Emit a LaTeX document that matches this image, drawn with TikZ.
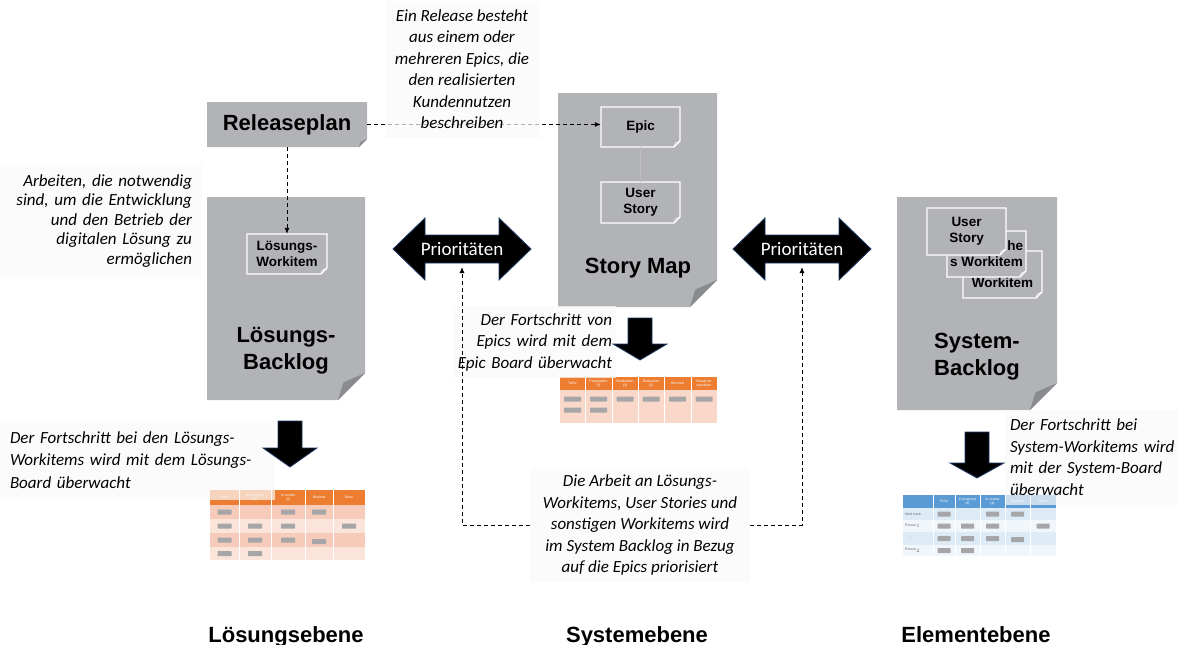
\documentclass[tikz,border=0pt]{standalone}
\usepackage{fontspec}
\setmainfont{Carlito}
\setsansfont{Liberation Sans}
\usetikzlibrary{fit,arrows.meta}

\definecolor{docgray}{RGB}{178,179,183}
\definecolor{folddark}{RGB}{138,139,143}
\definecolor{navy}{RGB}{31,56,100}
\definecolor{orhead}{RGB}{237,125,49}
\definecolor{orrow}{RGB}{247,203,185}
\definecolor{orrowlt}{RGB}{251,228,218}
\definecolor{bluehead}{RGB}{91,155,213}
\definecolor{bluerow}{RGB}{221,235,247}
\definecolor{bluerowlt}{RGB}{241,246,251}
\definecolor{badgegray}{RGB}{166,166,168}

% #1 name, #2-#5 corners, #6 fold
\newcommand{\Doc}[6]{%
  \fill[docgray] (#2,#3) -- (#4,#3) -- (#4,#5-#6) -- (#4-#6,#5) -- (#2,#5) -- cycle;
  \fill[folddark] (#4,#5-#6) -- (#4-#6,#5) -- (#4-0.8*#6,#5-0.65*#6) -- cycle;
  \node[fit={(#2,#3) (#4,#5)}, inner sep=0pt] (#1) {};}
\newcommand{\Card}[7]{%
  \draw[white, line width=1.1pt, fill=docgray] (#2,#3) -- (#4,#3) -- (#4,#5-#6) -- (#4-#6,#5) -- (#2,#5) -- cycle;
  \draw[white, line width=0.6pt] (#4,#5-#6) -- (#4-0.8*#6,#5-0.65*#6) -- (#4-#6,#5);
  \node[fit={(#2,#3) (#4,#5)}, inner sep=0pt] (#1) {};
  \node[cardtext] at (#1.center) {#7};}

\begin{document}
\begin{tikzpicture}[x=1pt, y=-1pt,
  title/.style={font=\sffamily\bfseries\fontsize{22}{27}\selectfont, align=center},
  cardtext/.style={font=\sffamily\bfseries\fontsize{13.5}{16}\selectfont, align=center, inner sep=0pt},
  note/.style={fill=black!2, fill opacity=0.7, text opacity=1, inner ysep=4pt, font=\itshape\fontsize{17}{21.5}\selectfont},
  link/.style={dash pattern=on 4pt off 3pt, line width=0.9pt, -{Latex[length=6pt,width=5pt]}},
  bigarrow/.style={fill=black, draw=navy, line width=0.8pt},
  priotext/.style={text=white, font=\fontsize{19}{22}\selectfont},
  badge/.style={fill=badgegray, minimum width=14pt, minimum height=5pt, inner sep=0pt, rounded corners=0.5pt},
  headtext/.style={text=white, font=\sffamily\fontsize{3.5}{4}\selectfont, align=center, inner sep=0pt},
  rowtext/.style={text=black!60, font=\sffamily\fontsize{3.5}{4}\selectfont, inner sep=0pt, anchor=west},
  level/.style={font=\sffamily\bfseries\fontsize{22}{26}\selectfont, anchor=base}]
\useasboundingbox (0,0) rectangle (1178,645);

\Doc{rp}{207}{102}{367}{147}{8}
\node[title] at (rp.center) {Releaseplan};
\Doc{lbl}{207}{197}{365}{400}{27}
\node[title] at (286,351) {Lösungs-\\Backlog};
\Doc{sm}{558}{93}{717}{307}{27}
\node[title] at (638,268) {Story Map};
\Doc{sbl}{897}{197}{1057}{410}{27}
\node[title] at (977,357) {System-\\Backlog};

\Card{lwi}{247}{234}{327}{274}{6}{Lösungs-\\Workitem}
\Card{epic}{601}{107}{680}{147}{6}{Epic}
\Card{us}{601}{182}{680}{223}{6}{User\\Story}
\draw[black!25, line width=0.8pt] (epic.south) -- (us.north);
\Card{dwi}{963}{251}{1042}{298}{6}{Defekt\\Workitem}
\Card{twi}{947}{231}{1026}{277}{6}{Technische\\s Workitem}
\Card{sus}{927}{208}{1006}{255}{6}{User\\Story}

\draw[link] (rp.east) -- (rp.east -| epic.west);
\draw[link] (rp.south) -- (lwi.north);

% Lösungs-Board
\fill[orhead] (210,490) rectangle (365,505);
\foreach \ya/\yb/\c in {505/519/orrow, 519/533/orrowlt, 533/547/orrow, 547/560/orrowlt}
  \fill[\c] (210,\ya) rectangle (365,\yb);
\foreach \x in {239,271,305,333}
  \draw[white, line width=0.5pt] (\x,490) -- (\x,560);
\foreach \x/\t in {224.5/ToDo, 255/{In progress\\(3)}, 288/{In review\\(2)}, 319/Blocked, 349/Done}
  \node[headtext] at (\x,497.5) {\t};
\foreach \x/\y in {224.5/512, 288/512, 319/512, 224.5/526, 255/526, 288/526, 349/526,
                   224.5/540, 255/540, 288/540, 319/541.5, 224.5/553.5, 255/553.5}
  \node[badge] at (\x,\y) {};

% Epic-Board
\fill[orhead] (560,377) rectangle (717,390);
\fill[orrow!75!white] (560,390) rectangle (717,423);
\foreach \x in {585,612,638,664,691}
  \draw[white, line width=0.5pt] (\x,377) -- (\x,423);
\foreach \x/\t in {572.5/ToDo, 598.5/{Preparation\\(3)}, 625/{Realisation\\(2)}, 651/{Evaluation\\(2)}, 677.5/Blocked, 704/{Ready for\\operation}}
  \node[headtext] at (\x,383.5) {\t};
\foreach \x/\y in {572.5/399, 598.5/399, 625/399, 651/399, 677.5/399, 704/399, 572.5/410, 598.5/410}
  \node[badge, minimum width=17pt] at (\x,\y) {};

% System-Board
\fill[bluehead] (903,495) rectangle (1056,508);
\foreach \ya/\yb/\c in {508/520/bluerow, 520/532/bluerowlt, 532/545/bluerow, 545/556/bluerowlt}
  \fill[\c] (903,\ya) rectangle (1056,\yb);
\foreach \x in {933,955,980,1005,1030}
  \draw[white, line width=0.5pt] (\x,495) -- (\x,556);
\foreach \x/\t in {944/ToDo, 967.5/{In progress\\(4)}, 992.5/{In review\\(4)}, 1017.5/Blocked, 1043/Done}
  \node[headtext] at (\x,501.5) {\t};
\foreach \y/\t in {514/Next track, 526/Person$_1$, 538.5/{\quad\dots}, 550.5/Person$_2$}
  \node[rowtext] at (905,\y) {\t};
\foreach \x/\y in {944/514, 992.5/514, 1017.5/514, 944/526, 967.5/526, 992.5/526, 1043/526,
                   944/538.5, 967.5/538.5, 992.5/538.5, 1017.5/539.5, 944/550.5, 967.5/550.5}
  \node[badge, minimum width=13pt] at (\x,\y) {};

\node[note, align=center, minimum width=155pt, minimum height=137pt] (noteRelease) at (462,69)
  {Ein Release besteht\\aus einem oder\\mehreren Epics, die\\den realisierten\\Kundennutzen\\beschreiben};
\node[note, align=right, text width=185pt, inner xsep=10pt, minimum height=115pt,
      font=\itshape\fontsize{17}{19.5}\selectfont] (noteArbeiten) at (99.5,221)
  {Arbeiten, die notwendig\\sind, um die Entwicklung\\und den Betrieb der\\digitalen Lösung zu\\ermöglichen};
\node[note, align=left, text width=255pt, inner xsep=10pt, minimum height=80pt,
      font=\itshape\fontsize{17}{22.5}\selectfont] (noteLoesung) at (137.5,460)
  {Der Fortschritt bei den Lösungs-\\Workitems wird mit dem Lösungs-\\Board überwacht};
\node[note, align=right, text width=155pt, inner xsep=4pt, minimum height=72pt] (noteEpic) at (534.5,342)
  {Der Fortschritt von\\Epics wird mit dem\\Epic Board überwacht};
\node[note, align=left, text width=175pt, inner xsep=5pt, minimum height=95pt] (noteSystem) at (1097.5,457)
  {Der Fortschritt bei\\System-Workitems wird\\mit der System-Board\\überwacht};
\node[note, align=center, minimum width=220pt, minimum height=114pt] (noteArbeit) at (640,525)
  {Die Arbeit an Lösungs-\\Workitems, User Stories und\\sonstigen Workitems wird\\im System Backlog in Bezug\\auf die Epics priorisiert};

\foreach \cx/\nm in {462/prioL, 802/prioR}{
  \filldraw[bigarrow] (\cx-69,249) -- (\cx-37,218) -- (\cx-37,235) -- (\cx+37,235) -- (\cx+37,218)
    -- (\cx+69,249) -- (\cx+37,280) -- (\cx+37,263) -- (\cx-37,263) -- (\cx-37,280) -- cycle;
  \node[priotext] (\nm) at (\cx,249) {Prioritäten};
}
\foreach \cx/\ya/\yb/\yc in {290/421/448/467, 640/318/344/360, 977/432/463/478}
  \filldraw[bigarrow] (\cx-12,\ya) -- (\cx+12,\ya) -- (\cx+12,\yb) -- (\cx+27,\yb) -- (\cx,\yc)
    -- (\cx-27,\yb) -- (\cx-12,\yb) -- cycle;

\draw[link] (noteArbeit.west) -| ([yshift=-18pt]prioL.center);
\draw[link] (noteArbeit.east) -| ([yshift=-18pt]prioR.center);

\node[level] at (286,642) {Lösungsebene};
\node[level] at (637,642) {Systemebene};
\node[level] at (976,642) {Elementebene};
\end{tikzpicture}
\end{document}
